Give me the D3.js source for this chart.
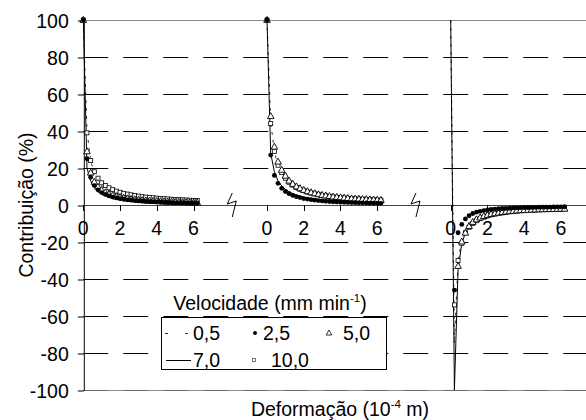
<!DOCTYPE html>
<html>
<head>
<meta charset="utf-8">
<script src="https://cdn.jsdelivr.net/npm/d3@7"></script>
<style>
  html, body { margin: 0; padding: 0; background: #fff; }
  svg text { font-family: "Liberation Sans", Arial, sans-serif; fill: #000; }
</style>
</head>
<body>
<svg id="chart" width="586" height="420" font-family="'Liberation Sans', Arial, sans-serif"></svg>
<script>
// Deformation steps (10^-4 m), shared by every series of each panel
const deformation = [0, 0.2, 0.4, 0.6, 0.8, 1.0, 1.2, 1.4, 1.6, 1.8, 2.0, 2.2, 2.4, 2.6, 2.8, 3.0,
                     3.2, 3.4, 3.6, 3.8, 4.0, 4.2, 4.4, 4.6, 4.8, 5.0, 5.2, 5.4, 5.6, 5.8, 6.0, 6.2];

// Panel offsets on the broken x axis and where the axis breaks are drawn
const panelOffsets = [0, 10, 20];
const axisBreaks = [8, 18];
const xTickLabels = [0, 2, 4, 6];
const yTickValues = [-100, -80, -60, -40, -20, 0, 20, 40, 60, 80, 100];

// Speeds (mm min^-1) shown in the legend
const speeds = ["0,5", "2,5", "5,0", "7,0", "10,0"];

// Panel 1 contributions (%)
const p1_v05  = [100, 40, 24, 17, 13, 10.5, 9, 7.8, 6.9, 6.2, 5.6, 5.1, 4.7, 4.3, 4.0, 3.7, 3.5, 3.3, 3.1, 2.9, 2.8, 2.6, 2.5, 2.4, 2.3, 2.2, 2.1, 2.0, 1.95, 1.9, 1.8, 1.75];
const p1_v25  = [100, 25, 15, 10.5, 8.2, 6.7, 5.7, 4.9, 4.3, 3.8, 3.4, 3.1, 2.8, 2.6, 2.4, 2.2, 2.05, 1.9, 1.8, 1.7, 1.6, 1.5, 1.4, 1.35, 1.3, 1.2, 1.15, 1.1, 1.05, 1.0, 0.95, 0.9];
const p1_v50  = [100, 29, 17.5, 12.5, 9.8, 8, 6.8, 5.9, 5.2, 4.6, 4.2, 3.8, 3.5, 3.2, 3.0, 2.8, 2.6, 2.45, 2.3, 2.2, 2.1, 2.0, 1.9, 1.8, 1.7, 1.65, 1.6, 1.5, 1.45, 1.4, 1.35, 1.3];
const p1_v70  = [100, 20, 13, 9.5, 7.6, 6.3, 5.4, 4.7, 4.1, 3.7, 3.3, 3.0, 2.8, 2.6, 2.4, 2.2, 2.1, 2.0, 1.9, 1.8, 1.7, 1.6, 1.5, 1.45, 1.4, 1.35, 1.3, 1.25, 1.2, 1.15, 1.1, 1.05];
const p1_v100 = [100, 39, 24, 18, 14.5, 12, 10.5, 9.3, 8.3, 7.5, 6.9, 6.3, 5.9, 5.5, 5.1, 4.8, 4.5, 4.3, 4.1, 3.9, 3.7, 3.5, 3.4, 3.3, 3.1, 3.0, 2.9, 2.8, 2.7, 2.6, 2.5, 2.4];

// Panel 2 contributions (%)
const p2_v05  = [100, 45, 29, 21, 16.5, 13.5, 11.5, 10, 8.8, 7.9, 7.2, 6.6, 6.1, 5.6, 5.2, 4.9, 4.6, 4.4, 4.1, 3.9, 3.7, 3.6, 3.4, 3.3, 3.2, 3.1, 3.0, 2.9, 2.8, 2.7, 2.6, 2.5];
const p2_v25  = [100, 27, 16, 11.7, 9, 7.3, 6.1, 5.2, 4.5, 4.0, 3.5, 3.2, 2.9, 2.6, 2.4, 2.2, 2.0, 1.9, 1.75, 1.65, 1.55, 1.45, 1.4, 1.3, 1.25, 1.2, 1.15, 1.1, 1.05, 1.0, 0.95, 0.9];
const p2_v50  = [100, 48, 31.5, 23.4, 19, 15.8, 13.1, 11.4, 10, 9, 8.1, 7.4, 6.8, 6.3, 5.8, 5.4, 5.1, 4.8, 4.5, 4.3, 4.1, 3.9, 3.7, 3.5, 3.4, 3.3, 3.2, 3.1, 3.0, 2.9, 2.8, 2.7];
const p2_v70  = [100, 28, 18, 13, 10.3, 8.5, 7.2, 6.2, 5.4, 4.8, 4.3, 3.9, 3.6, 3.3, 3.1, 2.9, 2.7, 2.5, 2.4, 2.3, 2.2, 2.1, 2.0, 1.9, 1.8, 1.75, 1.7, 1.65, 1.6, 1.55, 1.5, 1.45];
const p2_v100 = [100, 44, 29, 21.5, 17.5, 14.5, 12.3, 10.7, 9.5, 8.5, 7.7, 7.0, 6.5, 6.0, 5.6, 5.2, 4.9, 4.6, 4.4, 4.1, 3.9, 3.8, 3.6, 3.4, 3.3, 3.2, 3.1, 3.0, 2.9, 2.8, 2.7, 2.6];

// Panel 3 contributions (%); null = no reading at that step
const p3_v05  = [100, -75, -30, -19, -14, -11, -9, -7.6, -6.6, -5.9, -5.3, -4.8, -4.4, -4.1, -3.8, -3.5, -3.3, -3.1, -2.9, -2.8, -2.7, -2.6, -2.5, -2.4, -2.3, -2.2, -2.15, -2.1, -2.05, -2.0, -1.95, -1.9];
const p3_v25  = [null, -46, -15, -10.5, -7.5, -5.8, -4.6, -3.9, -3.4, -3.0, -2.7, -2.4, -2.2, -2.0, -1.9, -1.8, -1.7, -1.6, -1.5, -1.45, -1.4, -1.35, -1.3, -1.25, -1.2, -1.15, -1.1, -1.1, -1.05, -1.0, -1.0, -0.95];
const p3_v50  = [null, null, -33, -19.8, -15, -11.4, -9.2, -7.8, -6.8, -6.0, -5.4, -4.9, -4.5, -4.2, -3.9, -3.6, -3.4, -3.2, -3.0, -2.9, -2.8, -2.7, -2.6, -2.5, -2.4, -2.35, -2.3, -2.25, -2.2, -2.15, -2.1, -2.05];
const p3_v70  = [100, -100, -35, -21, -15, -11.5, -9.3, -7.8, -6.7, -5.8, -5.1, -4.6, -4.1, -3.7, -3.4, -3.1, -2.9, -2.7, -2.5, -2.4, -2.3, -2.2, -2.1, -2.0, -1.9, -1.85, -1.8, -1.75, -1.7, -1.65, -1.6, -1.55];
const p3_v100 = [null, -54, -30, -20.7, -15, -12, -10, -8.5, -7.4, -6.6, -5.9, -5.3, -4.9, -4.5, -4.2, -3.9, -3.6, -3.4, -3.2, -3.0, -2.9, -2.8, -2.7, -2.6, -2.5, -2.4, -2.35, -2.3, -2.25, -2.2, -2.15, -2.1];

const panels = [
  { v05: p1_v05, v25: p1_v25, v50: p1_v50, v70: p1_v70, v100: p1_v100 },
  { v05: p2_v05, v25: p2_v25, v50: p2_v50, v70: p2_v70, v100: p2_v100 },
  { v05: p3_v05, v25: p3_v25, v50: p3_v50, v70: p3_v70, v100: p3_v100 }
];

const svg = d3.select("#chart");
const FS = 19.5;
const FONT = "'Liberation Sans', Arial, sans-serif";

const x = d3.scaleLinear().domain([0, 27.5]).range([83.3, 588.5]);
const y = d3.scaleLinear().domain([-100, 100]).range([390, 20]);

// Horizontal gridlines
const grid = svg.append("g");
yTickValues.filter(v => v !== 0).forEach(v => {
  if (Math.abs(v) === 100) {
    grid.append("line")
      .attr("x1", x(0)).attr("x2", 586)
      .attr("y1", y(v) + 0.5).attr("y2", y(v) + 0.5)
      .attr("stroke", "#8a8a8a").attr("stroke-width", 1);
  }
  if (v !== 100) {
    grid.append("line")
      .attr("x1", x(0)).attr("x2", 586)
      .attr("y1", y(v) + 0.5).attr("y2", y(v) + 0.5)
      .attr("stroke", v === -100 ? "#6a6a6a" : "#000")
      .attr("stroke-width", 1)
      .attr("stroke-dasharray", "25,15");
  }
});

// Zero line (x axis)
svg.append("line")
  .attr("x1", x(0)).attr("x2", 586)
  .attr("y1", y(0) + 0.5).attr("y2", y(0) + 0.5)
  .attr("stroke", "#444").attr("stroke-width", 1);

// Y axis (plain hyphen for negative labels)
const yAxis = d3.axisLeft(y).tickValues(yTickValues)
  .tickFormat(d => String(d))
  .tickSizeInner(6).tickSizeOuter(0).tickPadding(9);
const gy = svg.append("g").attr("transform", `translate(${x(0) + 0.5},0.5)`).call(yAxis);
gy.attr("font-family", FONT);
gy.select(".domain").attr("stroke", "#000");
gy.selectAll(".tick line").attr("stroke", "#000");
gy.selectAll(".tick text")
  .attr("font-size", FS)
  .attr("font-family", FONT)
  .attr("dy", "0.36em");

// X ticks and labels for each panel
panelOffsets.forEach(off => {
  const g = svg.append("g");
  xTickLabels.forEach(t => {
    const px = Math.round(x(off + t)) + 0.5;
    g.append("line")
      .attr("x1", px).attr("x2", px)
      .attr("y1", y(0)).attr("y2", y(0) + 6)
      .attr("stroke", "#000");
    g.append("text")
      .attr("x", x(off + t)).attr("y", 235)
      .attr("text-anchor", "middle")
      .attr("font-size", FS)
      .text(t);
  });
});

// Axis break marks
axisBreaks.forEach(b => {
  const cx = x(b);
  svg.append("path")
    .attr("d", `M${cx + 2},${y(0) - 12} L${cx - 3},${y(0) - 1} L${cx + 6},${y(0) - 4} L${cx + 2},${y(0) + 12}`)
    .attr("fill", "none").attr("stroke", "#000").attr("stroke-width", 1);
});

// Series
const lineGen = off => d3.line()
  .defined(d => d !== null)
  .x((d, i) => x(off + deformation[i])).y(d => y(d));
const marks = svg.append("g");

panels.forEach((p, k) => {
  const off = panelOffsets[k];
  const pts = arr => arr.map((v, i) => ({ v, x: x(off + deformation[i]), y: y(v) }))
                        .filter(d => d.v !== null);

  marks.append("path").datum(p.v05)
    .attr("d", lineGen(off)).attr("fill", "none")
    .attr("stroke", "#333").attr("stroke-width", 1).attr("stroke-dasharray", "3,5");
  marks.append("path").datum(p.v70)
    .attr("d", lineGen(off)).attr("fill", "none")
    .attr("stroke", "#000").attr("stroke-width", 1);

  marks.selectAll(null).data(pts(p.v100)).enter().append("rect")
    .attr("x", d => d.x - 2).attr("y", d => d.y - 2)
    .attr("width", 4).attr("height", 4)
    .attr("fill", "#fff").attr("stroke", "#000").attr("stroke-width", 0.8);

  marks.selectAll(null).data(pts(p.v50)).enter().append("path")
    .attr("d", d => `M${d.x},${d.y - 3.6} L${d.x + 3.3},${d.y + 2.4} L${d.x - 3.3},${d.y + 2.4} Z`)
    .attr("fill", "#fff").attr("stroke", "#000").attr("stroke-width", 0.9);

  marks.selectAll(null).data(pts(p.v25)).enter().append("circle")
    .attr("cx", d => d.x).attr("cy", d => d.y).attr("r", 2.4)
    .attr("fill", "#000");
});

// Axis titles
svg.append("text")
  .attr("transform", `translate(33,${y(0)}) rotate(-90)`)
  .attr("text-anchor", "middle")
  .attr("font-size", FS)
  .text("Contribuição (%)");

const xt = svg.append("text")
  .attr("x", 340).attr("y", 416)
  .attr("text-anchor", "middle")
  .attr("font-size", FS);
xt.append("tspan").text("Deformação (10");
xt.append("tspan").attr("font-size", 11.5).attr("dy", -8).text("-4");
xt.append("tspan").attr("dy", 8).text(" m)");

// Legend
const lg = svg.append("g");
const lt = lg.append("text")
  .attr("x", 270).attr("y", 310)
  .attr("text-anchor", "middle")
  .attr("font-size", FS);
lt.append("tspan").text("Velocidade (mm min");
lt.append("tspan").attr("font-size", 11.5).attr("dy", -8).text("-1");
lt.append("tspan").attr("dy", 8).text(")");

lg.append("rect")
  .attr("x", 161.5).attr("y", 317.5).attr("width", 225).attr("height", 52)
  .attr("fill", "#fff").attr("stroke", "#000").attr("stroke-width", 1);

const legendItems = [
  { label: speeds[0], kind: "dash",   sx: 176, tx: 193, row: 0 },
  { label: speeds[1], kind: "circle", sx: 255, tx: 263, row: 0 },
  { label: speeds[2], kind: "tri",    sx: 329, tx: 343, row: 0 },
  { label: speeds[3], kind: "line",   sx: 179, tx: 193, row: 1 },
  { label: speeds[4], kind: "square", sx: 254, tx: 271, row: 1 }
];
const rowY = [333, 360];
legendItems.forEach(it => {
  const cy = rowY[it.row];
  if (it.kind === "dash") {
    lg.append("line").attr("x1", 165).attr("x2", 191).attr("y1", cy + 0.5).attr("y2", cy + 0.5)
      .attr("stroke", "#333").attr("stroke-dasharray", "3,17");
  } else if (it.kind === "line") {
    lg.append("line").attr("x1", 166).attr("x2", 191).attr("y1", cy + 0.5).attr("y2", cy + 0.5)
      .attr("stroke", "#000");
  } else if (it.kind === "circle") {
    lg.append("circle").attr("cx", it.sx).attr("cy", cy).attr("r", 2).attr("fill", "#000");
  } else if (it.kind === "tri") {
    lg.append("path").attr("d", `M${it.sx},${cy - 3} L${it.sx + 2.8},${cy + 2} L${it.sx - 2.8},${cy + 2} Z`)
      .attr("fill", "#fff").attr("stroke", "#000").attr("stroke-width", 0.8);
  } else {
    lg.append("rect").attr("x", it.sx - 1.5).attr("y", cy - 1.5).attr("width", 3).attr("height", 3)
      .attr("fill", "#fff").attr("stroke", "#555").attr("stroke-width", 0.8);
  }
  lg.append("text").attr("x", it.tx).attr("y", cy + 7).attr("font-size", FS).text(it.label);
});
</script>
</body>
</html>
